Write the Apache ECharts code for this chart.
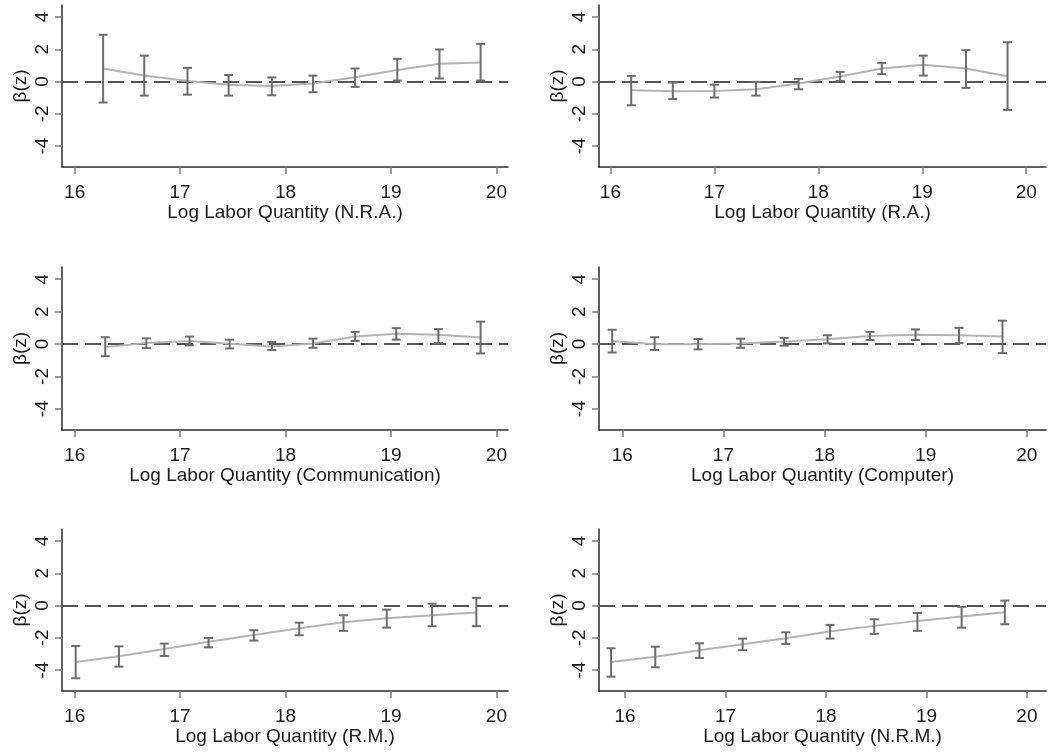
<!DOCTYPE html>
<html>
<head>
<meta charset="utf-8">
<script src="https://cdn.jsdelivr.net/npm/echarts@6/dist/echarts.min.js"></script>
<style>
html,body{margin:0;padding:0;background:#fff;}
#c{width:1051px;height:753px;}
</style>
</head>
<body>
<div id="c"></div>
<script>
// ---- data ----
const xTicks = [16, 17, 18, 19, 20];
const yTicks = [-4, -2, 0, 2, 4];

const titles = [
  'Log Labor Quantity (N.R.A.)',
  'Log Labor Quantity (R.A.)',
  'Log Labor Quantity (Communication)',
  'Log Labor Quantity (Computer)',
  'Log Labor Quantity (R.M.)',
  'Log Labor Quantity (N.R.M.)'
];

const nraX  = [16.27, 16.66, 17.07, 17.46, 17.87, 18.26, 18.66, 19.06, 19.46, 19.85];
const nraB  = [0.81, 0.37, 0.04, -0.19, -0.27, -0.12, 0.27, 0.72, 1.10, 1.18];
const nraLo = [-1.30, -0.87, -0.81, -0.87, -0.85, -0.66, -0.33, 0.06, 0.19, 0.06];
const nraHi = [2.90, 1.61, 0.85, 0.41, 0.25, 0.37, 0.81, 1.41, 1.99, 2.34];

const raX  = [16.20, 16.60, 17.00, 17.40, 17.81, 18.21, 18.61, 19.01, 19.42, 19.82];
const raB  = [-0.54, -0.60, -0.58, -0.48, -0.12, 0.31, 0.81, 1.04, 0.81, 0.33];
const raLo = [-1.47, -1.08, -0.99, -0.87, -0.48, 0.04, 0.46, 0.37, -0.39, -1.76];
const raHi = [0.35, -0.06, -0.19, -0.02, 0.17, 0.60, 1.16, 1.61, 1.95, 2.44];

const comX  = [16.29, 16.68, 17.09, 17.47, 17.87, 18.26, 18.66, 19.05, 19.45, 19.85];
const comB  = [-0.19, 0.06, 0.19, 0.02, -0.15, 0.04, 0.46, 0.63, 0.58, 0.40];
const comLo = [-0.75, -0.25, -0.08, -0.27, -0.37, -0.23, 0.19, 0.27, 0.06, -0.58];
const comHi = [0.42, 0.35, 0.46, 0.27, 0.13, 0.33, 0.75, 0.98, 0.92, 1.38];

const cmpX  = [15.90, 16.32, 16.75, 17.17, 17.60, 18.03, 18.45, 18.90, 19.33, 19.76];
const cmpB  = [0.19, -0.02, -0.02, 0.04, 0.15, 0.29, 0.50, 0.58, 0.54, 0.46];
const cmpLo = [-0.52, -0.37, -0.33, -0.23, -0.10, 0.04, 0.25, 0.25, 0.06, -0.56];
const cmpHi = [0.88, 0.42, 0.31, 0.33, 0.38, 0.54, 0.75, 0.90, 1.00, 1.44];

const rmX  = [16.01, 16.42, 16.85, 17.27, 17.70, 18.13, 18.55, 18.96, 19.39, 19.81];
const rmB  = [-3.50, -3.15, -2.69, -2.24, -1.82, -1.41, -1.04, -0.79, -0.60, -0.43];
const rmLo = [-4.51, -3.79, -3.13, -2.59, -2.17, -1.84, -1.57, -1.37, -1.28, -1.28];
const rmHi = [-2.51, -2.53, -2.36, -2.01, -1.53, -1.06, -0.60, -0.25, 0.12, 0.48];

const nrmX  = [15.86, 16.30, 16.74, 17.17, 17.60, 18.04, 18.48, 18.91, 19.35, 19.78];
const nrmB  = [-3.50, -3.17, -2.77, -2.40, -2.03, -1.61, -1.26, -0.95, -0.68, -0.41];
const nrmLo = [-4.41, -3.83, -3.25, -2.77, -2.38, -2.05, -1.76, -1.57, -1.37, -1.16];
const nrmHi = [-2.65, -2.55, -2.34, -2.05, -1.66, -1.20, -0.85, -0.46, -0.08, 0.31];

const xRanges = [[15.88, 20.11], [15.89, 20.19], [15.88, 20.11], [15.77, 20.19], [15.88, 20.11], [15.74, 20.19]];
const yRange = [-5.3, 4.75];

const panels = [
  [nraX, nraB, nraLo, nraHi],
  [raX, raB, raLo, raHi],
  [comX, comB, comLo, comHi],
  [cmpX, cmpB, cmpLo, cmpHi],
  [rmX, rmB, rmLo, rmHi],
  [nrmX, nrmB, nrmLo, nrmHi]
];

// ---- layout ----
const FONT = 'Liberation Sans, Arial, sans-serif';
const gridPos = [
  {left: 62, top: 5, width: 446, height: 162},
  {left: 599, top: 5, width: 447, height: 162},
  {left: 62, top: 267, width: 446, height: 163},
  {left: 599, top: 267, width: 447, height: 163},
  {left: 62, top: 529, width: 446, height: 162},
  {left: 599, top: 529, width: 447, height: 162}
];

const grids = [], xAxes = [], yAxes = [], series = [];
panels.forEach((p, i) => {
  grids.push(Object.assign({containLabel: false}, gridPos[i]));
  xAxes.push({
    type: 'value', gridIndex: i, min: xRanges[i][0], max: xRanges[i][1],
    name: titles[i], nameLocation: 'middle', nameGap: 33,
    nameTextStyle: {color: '#1a1a1a', fontSize: 19, fontFamily: FONT},
    axisLine: {show: true, onZero: false, lineStyle: {color: '#2a2a2a', width: 1.5}},
    axisTick: {show: true, length: 7, customValues: xTicks, lineStyle: {color: '#7a7a7a', width: 1.5}},
    axisLabel: {show: true, customValues: xTicks, margin: 16, color: '#1a1a1a', fontSize: 19, fontFamily: FONT, showMinLabel: true, showMaxLabel: true},
    splitLine: {show: false}
  });
  yAxes.push({
    type: 'value', gridIndex: i, min: yRange[0], max: yRange[1],
    name: 'β(z)', nameLocation: 'middle', nameGap: 32,
    nameTextStyle: {color: '#1a1a1a', fontSize: 19, fontFamily: FONT},
    axisLine: {show: true, onZero: false, lineStyle: {color: '#2a2a2a', width: 1.5}},
    axisTick: {show: true, length: 7, customValues: yTicks, lineStyle: {color: '#7a7a7a', width: 1.5}},
    axisLabel: {show: true, customValues: yTicks, rotate: 90, margin: 10, color: '#1a1a1a', fontSize: 19, fontFamily: FONT},
    splitLine: {show: false}
  });
  const lineData = p[0].map((x, k) => [x, p[1][k]]);
  const barData = p[0].map((x, k) => [x, p[2][k], p[3][k]]);
  series.push({
    type: 'line', xAxisIndex: i, yAxisIndex: i, data: lineData,
    showSymbol: false, symbol: 'none', smooth: false, z: 3,
    lineStyle: {color: '#b3b3b3', width: 2},
    markLine: {
      silent: true, symbol: 'none', label: {show: false},
      lineStyle: {color: '#555555', width: 2.2, type: [16, 7]},
      data: [{yAxis: 0}], z: 2
    }
  });
  series.push({
    type: 'custom', xAxisIndex: i, yAxisIndex: i, data: barData, z: 4,
    renderItem: function (params, api) {
      const x = api.value(0);
      const lo = api.coord([x, api.value(1)]);
      const hi = api.coord([x, api.value(2)]);
      const w = 4.5;
      const st = {stroke: '#6c6c6c', lineWidth: 2};
      return {
        type: 'group',
        children: [
          {type: 'line', shape: {x1: lo[0], y1: lo[1], x2: hi[0], y2: hi[1]}, style: st},
          {type: 'line', shape: {x1: hi[0] - w, y1: hi[1], x2: hi[0] + w, y2: hi[1]}, style: st},
          {type: 'line', shape: {x1: lo[0] - w, y1: lo[1], x2: lo[0] + w, y2: lo[1]}, style: st}
        ]
      };
    }
  });
});

const chart = echarts.init(document.getElementById('c'), null, {renderer: 'canvas'});
chart.setOption({
  animation: false,
  backgroundColor: '#ffffff',
  grid: grids, xAxis: xAxes, yAxis: yAxes, series: series
});
</script>
</body>
</html>
